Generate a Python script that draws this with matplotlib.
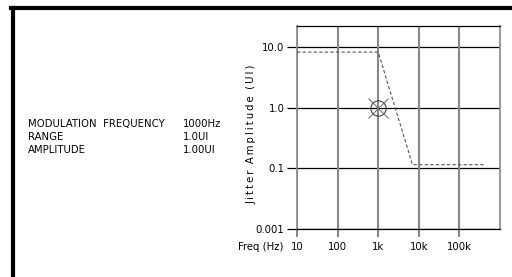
import numpy as np
import matplotlib.pyplot as plt
from matplotlib.lines import Line2D

# datos de la plantilla de jitter
freq = [10, 1000, 7000, 400000]
amp = [8.3, 8.3, 0.115, 0.115]

# punto medido
punto_f = [1000]
punto_a = [1.0]

yticks = [10.0, 1.0, 0.1, 0.01]
ytick_labels = ['10.0', '1.0', '0.1', '0.001']
xticks = [10, 100, 1000, 10000, 100000]
xtick_labels = ['10', '100', '1k', '10k', '100k']

info_nombres = ['MODULATION  FREQUENCY', 'RANGE', 'AMPLITUDE']
info_valores = ['1000Hz', '1.0UI', '1.00UI']

W, H = 512, 277
fig = plt.figure(figsize=(W / 100, H / 100), dpi=100)
fs = 7.3

# marco de la pantalla
fig.add_artist(Line2D([11 / W, 1], [1 - 8 / H, 1 - 8 / H], color='black', lw=3.0))
fig.add_artist(Line2D([13 / W, 13 / W], [0, 1 - 8 / H], color='black', lw=3.0))

ax = fig.add_axes([297 / W, (H - 229) / H, (500 - 297) / W, (229 - 26) / H])
ax.set_xscale('log')
ax.set_yscale('log')
ax.set_xlim(10, 1e6)
ax.set_ylim(0.01, 22.4)

for y in yticks:
    ax.axhline(y, color='black', lw=0.9, zorder=1)
for x in xticks:
    ax.axvline(x, color='#888888', lw=1.5, zorder=1)

ax.plot(freq, amp, color='#555555', lw=0.8, ls=(0, (3, 2)), zorder=3)
ax.plot(punto_f, punto_a, marker='o', ms=11, mfc='none', mec='#444444', mew=0.8, ls='none', zorder=4)
ax.plot(punto_f, punto_a, marker='x', ms=14, mec='#666666', mew=0.7, ls='none', zorder=4)

ax.set_yticks(yticks)
ax.set_yticklabels(ytick_labels, fontsize=fs)
ax.set_xticks(xticks)
ax.set_xticklabels(xtick_labels, fontsize=fs)
ax.minorticks_off()
ax.tick_params(axis='y', length=7, width=0.9, color='black', pad=2)
ax.tick_params(axis='x', length=6, width=1.5, color='#888888', pad=3)

for s in ['top', 'bottom']:
    ax.spines[s].set_color('black')
    ax.spines[s].set_linewidth(0.9)
for s in ['left', 'right']:
    ax.spines[s].set_color('#888888')
    ax.spines[s].set_linewidth(1.2)

ylabel = '\u2009'.join('Jitter') + '  ' + '\u2009'.join('Amplitude') + '  ' + '\u2009'.join('(UI)')
fig.text(252 / W, 1 - 134 / H, ylabel, fontsize=7.3, rotation=90, ha='center', va='center')
fig.text(283 / W, 1 - 247 / H, 'Freq (Hz)', fontsize=fs, ha='right', va='center')

for i in range(3):
    y = 1 - (124 + 13 * i) / H
    fig.text(28 / W, y, info_nombres[i], fontsize=fs, va='center')
    fig.text(183 / W, y, info_valores[i], fontsize=fs, va='center')

fig.savefig('out.png', dpi=100)
